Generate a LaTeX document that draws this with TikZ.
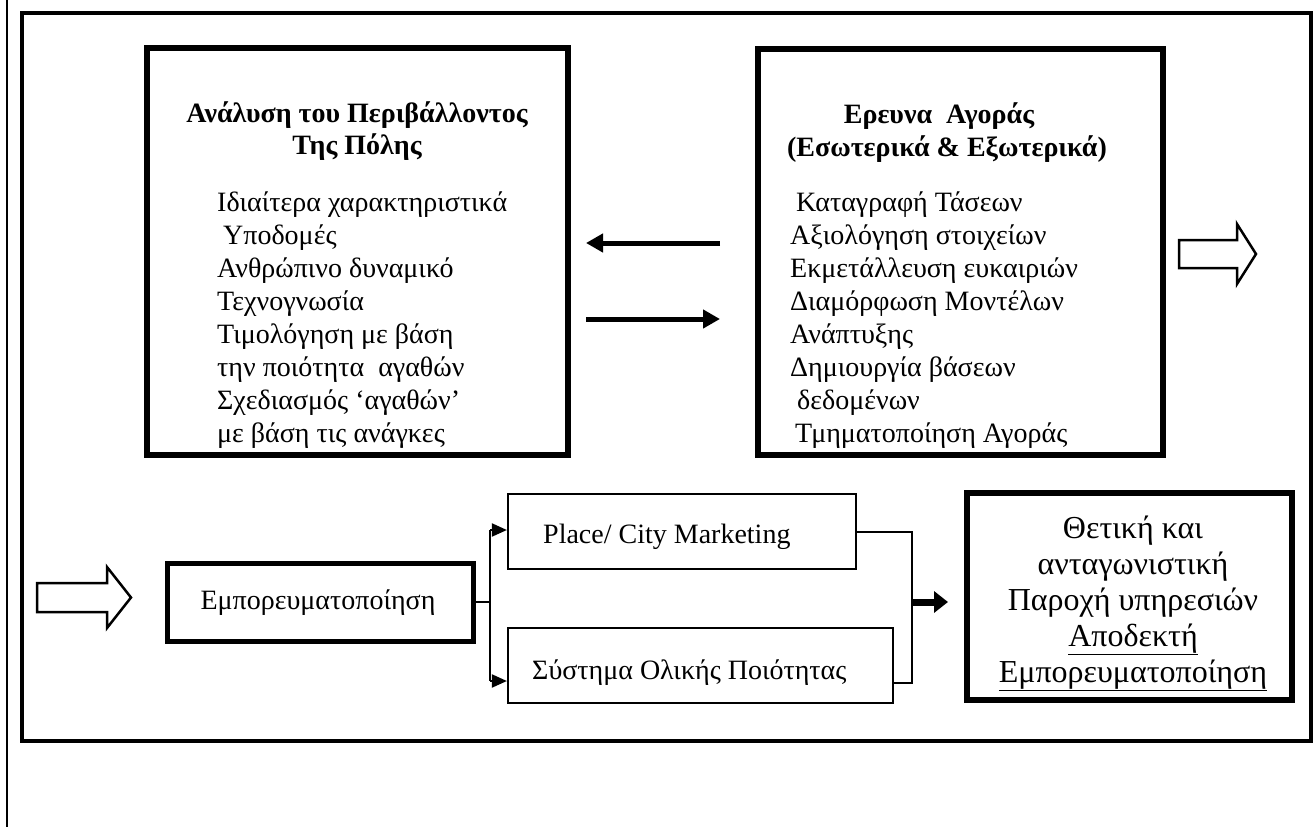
\documentclass[tikz,border=0pt]{standalone}
\usepackage{fontspec}
\setmainfont{Liberation Serif}
\usetikzlibrary{arrows.meta}
\begin{document}
\begin{tikzpicture}[x=1pt,y=-1pt,
  bigbox/.style={draw, rectangle, inner sep=0pt, line width=5.5pt},
  midbox/.style={draw, rectangle, inner sep=0pt, line width=5pt},
  thinbox/.style={draw, rectangle, inner sep=0pt, line width=2.2pt},
  txt/.style={inner sep=0pt, font=\fontsize{28}{33}\selectfont},
  restxt/.style={inner sep=0pt, font=\fontsize{32}{36}\selectfont},
  ttl/.style={inner sep=0pt, font=\fontsize{28}{32}\selectfont\bfseries},
  toparrow/.style={line width=5pt, -{Triangle[length=17pt,width=18pt]}},
  conn/.style={line width=2pt},
  smallarrow/.style={line width=2pt, -{Triangle[length=15pt,width=13pt]}},
  fatarrow/.style={line width=7pt, -{Triangle[length=14pt,width=21pt]}},
  blockarrow/.style={draw, fill=white, line width=2.5pt, line join=miter}
]
\useasboundingbox (0,0) rectangle (1315,827);
% outer left line and frame
\draw[line width=2.5pt] (7,0) -- (7,827);
\node[draw, rectangle, inner sep=0pt, line width=3.5pt, minimum width=1289pt, minimum height=728pt] (frame) at (666.5,377) {};

% top boxes
\node[bigbox, minimum width=421pt, minimum height=407pt] (lbox) at (357.5,251.5) {};
\node[bigbox, minimum width=405pt, minimum height=406pt] (rbox) at (960.5,252) {};

% left box text
\node[ttl, anchor=base] (lt1) at (357,122) {Ανάλυση του Περιβάλλοντος};
\node[ttl, anchor=base] (lt2) at (357,154) {Της Πόλης};
\node[txt, anchor=base west] (li1) at (217,211) {Ιδιαίτερα χαρακτηριστικά};
\node[txt, anchor=base west] (li2) at (223,244) {Υποδομές};
\node[txt, anchor=base west] (li3) at (217,277) {Ανθρώπινο δυναμικό};
\node[txt, anchor=base west] (li4) at (217,310) {Τεχνογνωσία};
\node[txt, anchor=base west] (li5) at (217,343) {Τιμολόγηση με βάση};
\node[txt, anchor=base west] (li6) at (217,376) {την ποιότητα\ \ αγαθών};
\node[txt, anchor=base west] (li7) at (217,409) {Σχεδιασμός ‘αγαθών’};
\node[txt, anchor=base west] (li8) at (217,442) {με βάση τις ανάγκες};

% right box text
\node[ttl, anchor=base] (rt1) at (939,123) {Ερευνα\ \ Αγοράς};
\node[ttl, anchor=base] (rt2) at (947,156) {(Εσωτερικά \& Εξωτερικά)};
\node[txt, anchor=base west] (ri1) at (796,211) {Καταγραφή Τάσεων};
\node[txt, anchor=base west] (ri2) at (790,244) {Αξιολόγηση στοιχείων};
\node[txt, anchor=base west] (ri3) at (790,277) {Εκμετάλλευση ευκαιριών};
\node[txt, anchor=base west] (ri4) at (790,310) {Διαμόρφωση Μοντέλων};
\node[txt, anchor=base west] (ri5) at (790,343) {Ανάπτυξης};
\node[txt, anchor=base west] (ri6) at (790,376) {Δημιουργία βάσεων};
\node[txt, anchor=base west] (ri7) at (797,409) {δεδομένων};
\node[txt, anchor=base west] (ri8) at (795,442) {Τμηματοποίηση Αγοράς};

% arrows between top boxes
\coordinate (u1) at (720,243);
\coordinate (u2) at (586,243);
\coordinate (d1) at (586,319);
\coordinate (d2) at (720,319);
\draw[toparrow] (u1) -- (u2);
\draw[toparrow] (d1) -- (d2);

% block arrows
\draw[blockarrow] (1179,240) -- (1237,240) -- (1237,224) -- (1256,254) -- (1237,284) -- (1237,268) -- (1179,268) -- cycle;
\draw[blockarrow] (37,583) -- (107,583) -- (107,567) -- (131,597.5) -- (107,628) -- (107,612) -- (37,612) -- cycle;

% bottom row
\node[midbox, minimum width=306pt, minimum height=78pt] (emp) at (320,602) {};
\node[txt, anchor=base] (empt) at (318,609) {Εμπορευματοποίηση};
\node[thinbox, minimum width=348pt, minimum height=75pt] (place) at (682,531.5) {};
\node[txt, anchor=base west] (placet) at (543,543) {Place/ City Marketing};
\node[thinbox, minimum width=385pt, minimum height=75pt] (sys) at (700.5,665.5) {};
\node[txt, anchor=base west] (syst) at (532,679) {Σύστημα Ολικής Ποιότητας};
\node[draw, rectangle, inner sep=0pt, line width=6pt, minimum width=325pt, minimum height=207pt] (res) at (1129.5,596.5) {};
\node[restxt, anchor=base] (r1) at (1133,538) {Θετική και};
\node[restxt, anchor=base] (r2) at (1133,574) {ανταγωνιστική};
\node[restxt, anchor=base] (r3) at (1133,610) {Παροχή υπηρεσιών};
\node[restxt, anchor=base] (r4) at (1133,646) {\underline{Αποδεκτή}};
\node[restxt, anchor=base] (r5) at (1133,682) {\underline{Εμπορευματοποίηση}};

% branching connectors
\coordinate (split) at (490,602);
\draw[conn] (emp.east) -- (split);
\draw[conn] (490,530) -- (490,681);
\draw[smallarrow] (490,530) -- (place.west |- 0,530);
\draw[smallarrow] (490,681) -- (sys.west |- 0,681);

% merge connectors
\coordinate (mj) at (912,602);
\draw[conn] (place.east) -| (mj);
\draw[conn] (sys.east |- 0,683) -| (mj);
\draw[fatarrow] (mj) -- (948,602);
\end{tikzpicture}
\end{document}
